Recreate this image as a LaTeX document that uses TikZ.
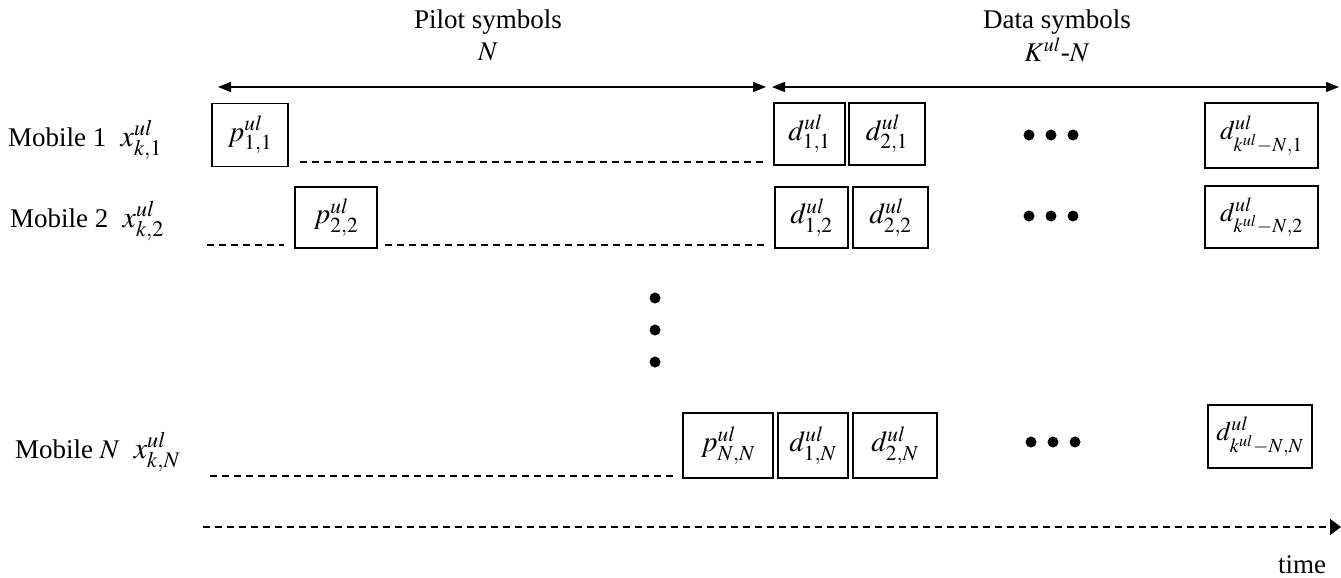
\documentclass[tikz,border=0pt]{standalone}
\usepackage{mathptmx}
\usepackage[no-math]{fontspec}
\setmainfont{Liberation Serif}
\usetikzlibrary{arrows.meta}
\newcommand{\bigmath}[1]{{\fontsize{30}{34}\selectfont #1}}
\tikzset{
  sym/.style={draw, line width=1.3pt, inner sep=0pt, font=\fontsize{29}{34}\selectfont},
  symlast/.style={sym, font=\fontsize{27}{32}\selectfont},
  lbl/.style={inner sep=0pt, font=\fontsize{27}{32}\selectfont},
  gap/.style={line width=1.2pt, dash pattern=on 7pt off 5pt},
  span/.style={line width=1.4pt, {Triangle[length=13pt,width=10pt]}-{Triangle[length=13pt,width=10pt]}},
  blob/.style={circle, fill, inner sep=0pt, minimum size=11pt}
}
\begin{document}
\begin{tikzpicture}[x=1pt,y=-1pt]
\useasboundingbox (0,0) rectangle (1341,578);

% headings and span arrows
\node[lbl] (hp) at (488,22) {Pilot symbols};
\node[lbl] (hpn) at (488,52) {$N$};
\node[lbl] (hd) at (1057,22) {Data symbols};
\node[lbl] (hdn) at (1057,50) {$K^{ul}$-$N$};
\coordinate (pa) at (218,87);
\coordinate (pb) at (766,87);
\coordinate (da) at (772,87);
\coordinate (db) at (1339,87);
\draw[span] (pa) -- (pb);
\draw[span] (da) -- (db);

% mobile 1
\node[lbl, anchor=base west] (m1) at (8,146) {Mobile 1\; \bigmath{$x^{ul}_{k,1}$}};
\node[sym, minimum width=76pt, minimum height=63pt] (p11) at (250,135) {$p^{ul}_{1,1}$};
\node[sym, minimum width=71pt, minimum height=62pt] (d11) at (809.5,134) {$d^{ul}_{1,1}$};
\node[sym, minimum width=76pt, minimum height=62pt] (d21) at (887,134) {$d^{ul}_{2,1}$};
\node[symlast, minimum width=113pt, minimum height=65pt] (dl1) at (1261.5,135.5) {$d^{ul}_{k^{ul}-N,1}$};
\coordinate (g1a) at (300,162);
\coordinate (g1b) at (766,162);
\draw[gap] (g1a) -- (g1b);
\node[blob] (e1a) at (1029,135) {};
\node[blob] (e1b) at (1051,135) {};
\node[blob] (e1c) at (1073,135) {};

% mobile 2
\node[lbl, anchor=base west] (m2) at (10,227) {Mobile 2\; \bigmath{$x^{ul}_{k,2}$}};
\node[sym, minimum width=82pt, minimum height=61pt] (p22) at (336,217.5) {$p^{ul}_{2,2}$};
\node[sym, minimum width=73pt, minimum height=61pt] (d12) at (811.5,217.5) {$d^{ul}_{1,2}$};
\node[sym, minimum width=75pt, minimum height=61pt] (d22) at (890.5,217.5) {$d^{ul}_{2,2}$};
\node[symlast, minimum width=113pt, minimum height=62pt] (dl2) at (1261.5,217) {$d^{ul}_{k^{ul}-N,2}$};
\coordinate (g2a) at (207,245);
\coordinate (g2b) at (284,245);
\coordinate (g2c) at (385,245);
\coordinate (g2d) at (769,245);
\draw[gap] (g2a) -- (g2b);
\draw[gap] (g2c) -- (g2d);
\node[blob] (e2a) at (1029,216) {};
\node[blob] (e2b) at (1051,216) {};
\node[blob] (e2c) at (1073,216) {};

% rows in between
\node[blob] (v1) at (655,298) {};
\node[blob] (v2) at (655,330) {};
\node[blob] (v3) at (655,362) {};

% mobile N
\node[lbl, anchor=base west] (mN) at (15,458) {Mobile $N$\; \bigmath{$x^{ul}_{k,N}$}};
\node[sym, minimum width=90pt, minimum height=65pt] (pNN) at (728,445.5) {$p^{ul}_{N,N}$};
\node[sym, minimum width=70pt, minimum height=65pt] (d1N) at (813,445.5) {$d^{ul}_{1,N}$};
\node[sym, minimum width=84pt, minimum height=65pt] (d2N) at (895,445.5) {$d^{ul}_{2,N}$};
\node[symlast, minimum width=104pt, minimum height=63pt] (dlN) at (1260,436.5) {$d^{ul}_{k^{ul}-N,N}$};
\coordinate (gNa) at (210,476);
\coordinate (gNb) at (676,476);
\draw[gap] (gNa) -- (gNb);
\node[blob] (eNa) at (1031,442) {};
\node[blob] (eNb) at (1053,442) {};
\node[blob] (eNc) at (1075,442) {};

% time axis
\coordinate (ta) at (203,527);
\coordinate (tb) at (1341,527);
\draw[gap, -{Triangle[length=11pt,width=16pt]}] (ta) -- (tb);
\node[lbl] (time) at (1302,565) {time};
\end{tikzpicture}
\end{document}
